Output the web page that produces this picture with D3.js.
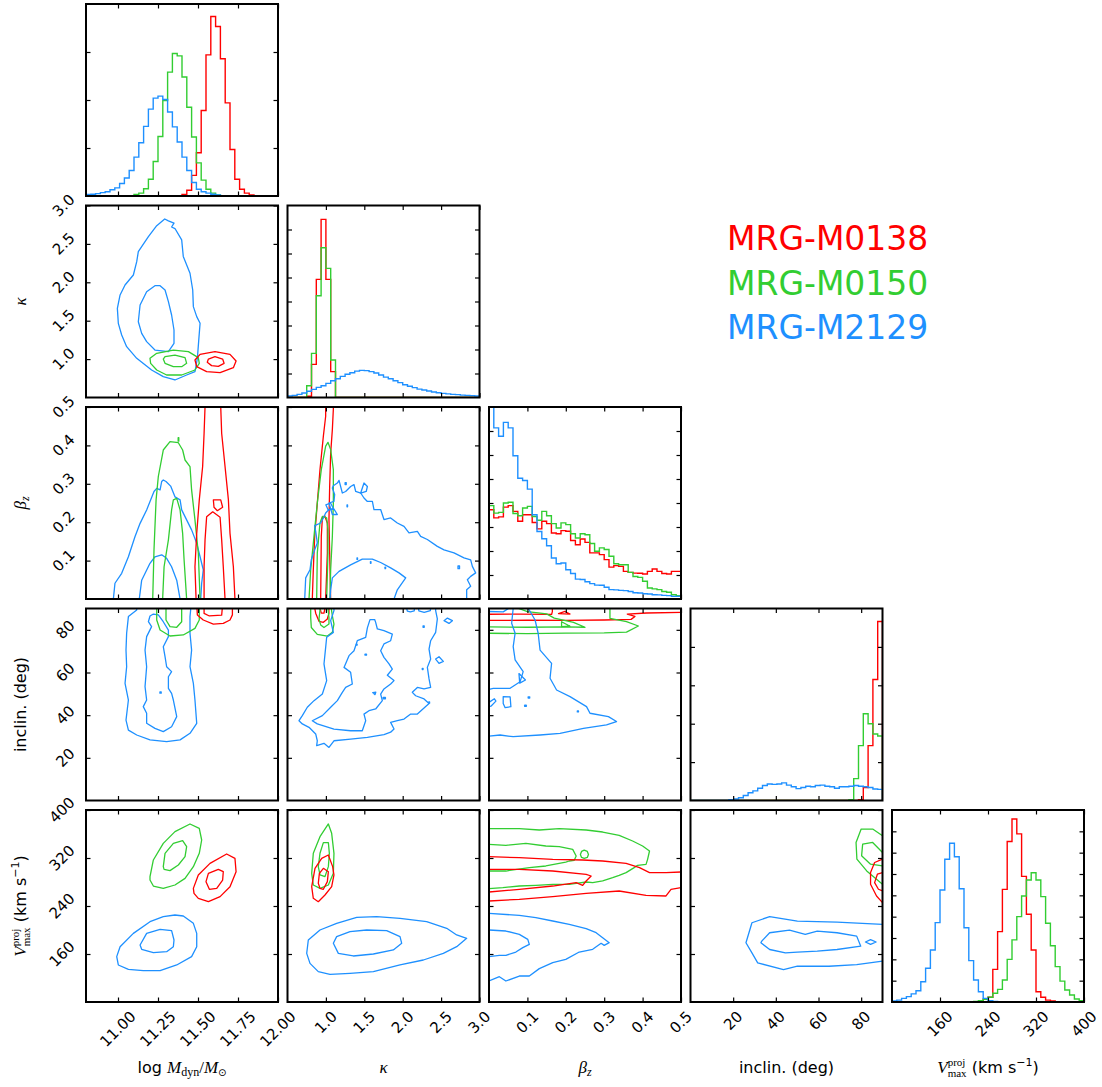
<!DOCTYPE html>
<html>
<head>
<meta charset="utf-8">
<script src="https://cdn.jsdelivr.net/npm/d3@7"></script>
<style>
  body { margin: 0; background: #fff; }
  svg { display: block; }
  text { white-space: pre; }
</style>
</head>
<body>
<svg id="chart" width="1102" height="1087"></svg>
<script>
// ---------- data ----------
const seriesNames = ["MRG-M0138", "MRG-M0150", "MRG-M2129"];
const seriesColors = ["#ff0000", "#32cd32", "#1e90ff"];

const paramDomains = [[10.8, 12.0], [0.5, 3.0], [0, 0.5], [0, 90], [80, 400]];
const paramTicks = [
  [11.0, 11.25, 11.5, 11.75, 12.0],
  [1.0, 1.5, 2.0, 2.5, 3.0],
  [0.1, 0.2, 0.3, 0.4, 0.5],
  [20, 40, 60, 80],
  [160, 240, 320, 400]
];
const paramTickLabels = [
  ["11.00", "11.25", "11.50", "11.75", "12.00"],
  ["1.0", "1.5", "2.0", "2.5", "3.0"],
  ["0.1", "0.2", "0.3", "0.4", "0.5"],
  ["20", "40", "60", "80"],
  ["160", "240", "320", "400"]
];
// histogram count axes (upper limit and tick marks)
const histTop = [4, 8, 8, 5, 9];
const histTicks = [[1, 2, 3], [1, 2, 3, 4, 5, 6, 7], [1, 2, 3, 4, 5, 6, 7], [1, 2, 3, 4], [1, 2, 3, 4, 5, 6, 7, 8]];

// 40-bin histograms across each parameter range: [M0138, M0150, M2129]
const histLogM = [
  [0,0,0,0,0,0,0,0,0,0, 0,0,0,0,0,0,0,0,0,0, 0.03,0.12,0.43,0.9,1.78,2.94,3.74,3.53,2.86,1.94, 0.97,0.35,0.14,0.06,0.02,0,0,0,0,0],
  [0,0,0,0,0,0,0,0,0,0, 0.03,0.06,0.15,0.35,0.72,1.24,1.99,2.58,2.97,2.92, 2.48,1.85,1.23,0.69,0.33,0.14,0.06,0.02,0,0, 0,0,0,0,0,0,0,0,0,0],
  [0.03,0.035,0.05,0.07,0.09,0.13,0.17,0.26,0.375,0.53, 0.81,1.11,1.45,1.81,2.04,2.08,2.01,1.75,1.44,1.125, 0.81,0.53,0.28,0.14,0.09,0.06,0.035,0.02,0.007,0, 0,0,0,0,0,0,0,0,0,0]
];
const histKappa = [
  [0,0,0,0,0.05,1.38,4.92,7.42,4.92,1.08, 0,0,0,0,0,0,0,0,0,0, 0,0,0,0,0,0,0,0,0,0, 0,0,0,0,0,0,0,0,0,0],
  [0,0,0,0,0.49,1.84,4.24,6.24,5.38,1.56, 0,0,0,0,0,0,0,0,0,0, 0,0,0,0,0,0,0,0,0,0, 0,0,0,0,0,0,0,0,0,0],
  [0.06,0.09,0.13,0.19,0.26,0.34,0.42,0.49,0.59,0.70, 0.78,0.88,0.97,1.03,1.10,1.13,1.12,1.08,1.02,0.94, 0.85,0.78,0.70,0.62,0.53,0.47,0.41,0.35,0.31,0.27, 0.23,0.20,0.17,0.15,0.13,0.12,0.10,0.09,0.08,0.06]
];
const histBeta = [
  [3.72,3.38,3.42,3.83,3.89,3.65,3.24,3.51,3.51,3.19, 2.92,3.24,3.14,2.75,2.72,2.85,2.82,2.44,2.26,2.5, 2.36,1.92,1.92,1.85,1.64,1.33,1.39,1.36,1.15,1.11, 1.08,1.07,1.04,1.15,1.25,1.15,1.06,1.04,1.15,1.15],
  [3.89,3.58,3.61,4.0,4.03,3.56,3.47,3.79,3.86,3.44, 3.28,3.65,3.47,3.14,2.96,3.17,3.1,2.72,2.54,2.72, 2.68,2.31,1.99,2.13,2.06,1.78,1.47,1.43,1.43,1.11, 0.94,0.90,0.74,0.46,0.42,0.39,0.31,0.28,0.18,0.14],
  [8.3,7.13,6.78,7.36,7.13,5.97,5.03,4.94,4.58,3.51, 2.81,2.51,2.22,1.71,1.47,1.50,1.22,1.06,0.83,0.81, 0.72,0.64,0.58,0.57,0.49,0.39,0.38,0.36,0.35,0.31, 0.26,0.25,0.22,0.21,0.18,0.17,0.15,0.14,0.11,0.11]
];
const histIncl = [
  [0,0,0,0,0,0,0,0,0,0, 0,0,0,0,0,0,0,0,0,0, 0,0,0,0,0,0,0,0,0,0, 0,0,0,0,0,0.02,0.34,1.43,3.15,4.66],
  [0,0,0,0,0,0,0,0,0,0, 0,0,0,0,0,0,0,0,0,0, 0,0,0,0,0,0,0,0,0,0, 0,0,0,0.02,0.57,1.43,2.26,2.0,1.73,1.68],
  [0,0,0,0,0,0,0,0,0.02,0.04, 0.07,0.13,0.2,0.25,0.32,0.39,0.43,0.42,0.43,0.46, 0.40,0.36,0.31,0.34,0.37,0.36,0.39,0.4,0.37,0.36, 0.32,0.36,0.36,0.37,0.39,0.37,0.36,0.34,0.3,0.29]
];
const histVmax = [
  [0,0,0,0,0,0,0,0,0,0, 0,0,0,0,0,0,0,0,0,0.13, 0.22,1.53,3.3,5.28,7.52,8.58,7.88,5.89,4.11,2.44, 0.48,0.22,0.09,0.05,0,0,0,0,0,0],
  [0,0,0,0,0,0,0,0,0,0, 0,0,0,0,0,0,0,0.03,0.06,0.13, 0.22,0.41,0.59,1.03,2.0,2.91,4.0,4.97,5.72,6.06, 5.72,4.94,3.69,2.64,1.66,0.98,0.56,0.33,0.14,0.06],
  [0.05,0.09,0.17,0.25,0.38,0.53,0.95,1.58,2.44,3.72, 5.25,6.69,7.44,6.81,5.31,3.48,1.94,1.03,0.48,0.17, 0.06,0.02,0,0,0,0,0,0,0,0, 0,0,0,0,0,0,0,0,0,0]
];
const histograms = [histLogM, histKappa, histBeta, histIncl, histVmax];

// 68% / 95% credible contours, as [x, y] in parameter units; s = series index
const kappaVsLogM = [
  { s: 2, closed: true, pts: [[11.292,2.824],[11.242,2.737],[11.190,2.594],[11.127,2.399],[11.117,2.269],[11.096,2.095],[11.044,1.965],[11.013,1.835],[10.996,1.661],[11.002,1.466],[11.023,1.314],[11.054,1.162],[11.117,1.010],[11.210,0.858],[11.283,0.771],[11.356,0.728],[11.429,0.793],[11.481,0.836],[11.496,1.010],[11.504,1.227],[11.513,1.467],[11.492,1.553],[11.471,1.683],[11.467,1.900],[11.450,2.118],[11.408,2.337],[11.398,2.552],[11.356,2.700],[11.335,2.720],[11.350,2.770],[11.315,2.800]] },
  { s: 2, closed: true, pts: [[11.231,1.956],[11.179,1.878],[11.138,1.704],[11.127,1.487],[11.148,1.335],[11.179,1.227],[11.231,1.118],[11.315,1.097],[11.350,1.205],[11.350,1.379],[11.335,1.574],[11.315,1.748],[11.294,1.900],[11.263,1.956]] },
  { s: 1, closed: true, pts: [[11.2,1.010],[11.242,1.075],[11.346,1.118],[11.440,1.097],[11.502,1.019],[11.508,0.945],[11.481,0.858],[11.398,0.793],[11.304,0.793],[11.242,0.858],[11.204,0.945]] },
  { s: 1, closed: true, pts: [[11.294,1.032],[11.356,1.053],[11.419,1.019],[11.429,0.945],[11.398,0.901],[11.346,0.901],[11.294,0.945],[11.283,1.001]] },
  { s: 0, closed: true, pts: [[11.481,0.988],[11.513,1.062],[11.606,1.097],[11.700,1.062],[11.738,0.975],[11.721,0.888],[11.638,0.823],[11.554,0.836],[11.492,0.901]] },
  { s: 0, closed: true, pts: [[11.565,1.001],[11.606,1.032],[11.654,1.001],[11.663,0.945],[11.627,0.906],[11.585,0.915],[11.558,0.958]] }
];
const betaVsLogM = [
  { s: 2, pts: [[10.971,-0.01],[10.971,0],[10.981,0.041],[11.023,0.067],[11.065,0.110],[11.106,0.162],[11.138,0.197],[11.179,0.232],[11.225,0.280],[11.242,0.288],[11.263,0.284],[11.273,0.306],[11.283,0.310],[11.300,0.306],[11.329,0.294],[11.356,0.266],[11.388,0.258],[11.398,0.232],[11.429,0.206],[11.460,0.180],[11.492,0.145],[11.513,0.110],[11.533,0.076],[11.523,0.041],[11.517,0],[11.517,-0.01]] },
  { s: 2, pts: [[11.133,-0.01],[11.133,0],[11.148,0.049],[11.2,0.093],[11.231,0.110],[11.273,0.115],[11.304,0.106],[11.335,0.084],[11.367,0.049],[11.388,0],[11.388,-0.01]] },
  { s: 1, pts: [[11.217,-0.01],[11.217,0],[11.225,0.128],[11.238,0.258],[11.252,0.319],[11.283,0.388],[11.325,0.410],[11.377,0.407],[11.404,0.388],[11.419,0.362],[11.450,0.345],[11.460,0.284],[11.481,0.206],[11.502,0.119],[11.513,0],[11.513,-0.01]] },
  { s: 1, closed: true, pts: [[11.376,0.411],[11.380,0.411],[11.380,0.420],[11.376,0.420]] },
  { s: 1, pts: [[11.279,-0.01],[11.279,0],[11.288,0.084],[11.315,0.154],[11.335,0.232],[11.346,0.258],[11.367,0.262],[11.388,0.232],[11.404,0.171],[11.413,0.102],[11.429,0],[11.429,-0.01]] },
  { s: 0, pts: [[11.488,-0.01],[11.488,0],[11.481,0.084],[11.492,0.171],[11.508,0.258],[11.529,0.345],[11.538,0.431],[11.544,0.501],[11.545,0.53],[11.642,0.53],[11.642,0.501],[11.648,0.431],[11.669,0.345],[11.690,0.258],[11.700,0.171],[11.721,0.084],[11.731,0],[11.731,-0.01]] },
  { s: 0, pts: [[11.538,-0.01],[11.538,0],[11.538,0.084],[11.544,0.154],[11.554,0.214],[11.592,0.227],[11.638,0.213],[11.648,0.154],[11.658,0.084],[11.669,0],[11.669,-0.01]] },
  { s: 0, closed: true, pts: [[11.596,0.258],[11.642,0.258],[11.654,0.239],[11.621,0.230],[11.600,0.239]] }
];
const inclVsLogM = [
  { s: 2, pts: [[11.117,92],[11.117,89.3],[11.065,86.2],[11.054,78.4],[11.05,70.5],[11.054,62.7],[11.044,54.9],[11.065,47.1],[11.05,37.7],[11.065,33.0],[11.117,30.7],[11.2,28.4],[11.304,27.6],[11.388,28.4],[11.45,31.5],[11.492,36.2],[11.481,47.1],[11.471,54.9],[11.45,62.7],[11.46,70.5],[11.45,78.4],[11.45,86.2],[11.454,89.3],[11.454,92]] },
  { s: 2, closed: true, pts: [[11.2,86.5],[11.19,83.8],[11.21,81.5],[11.179,76.8],[11.169,70.5],[11.179,62.7],[11.169,53.4],[11.179,47.1],[11.158,44.0],[11.179,40.9],[11.179,36.2],[11.231,33.8],[11.283,32.3],[11.335,34.6],[11.367,39.3],[11.346,47.1],[11.335,50.2],[11.315,52.6],[11.315,58.0],[11.335,60.4],[11.304,62.7],[11.294,67.4],[11.283,72.1],[11.315,76.8],[11.315,79.9],[11.283,83.8],[11.252,87.0],[11.221,87.4]] },
  { s: 2, closed: true, pts: [[11.262,50.9],[11.270,50.9],[11.270,50.3],[11.262,50.3]] },
  { s: 1, pts: [[11.242,92],[11.242,84.6],[11.263,79.9],[11.325,77.1],[11.408,77.6],[11.481,80.7],[11.508,84.6],[11.508,92]] },
  { s: 1, pts: [[11.3,92],[11.3,84.6],[11.325,81.5],[11.367,81.2],[11.398,83.8],[11.398,92]] },
  { s: 0, pts: [[11.492,92],[11.496,87.0],[11.533,84.6],[11.596,82.7],[11.658,83.0],[11.7,84.6],[11.715,87.0],[11.715,92]] },
  { s: 0, pts: [[11.538,92],[11.538,87.7],[11.571,86.5],[11.648,86.9],[11.654,92]] }
];
const vmaxVsLogM = [
  { s: 1, closed: true, pts: [[11.2,289],[11.221,316.7],[11.283,344.4],[11.356,363.9],[11.45,376.7],[11.508,369.4],[11.523,350],[11.508,327.8],[11.471,305.6],[11.419,286.1],[11.356,275],[11.283,269.4],[11.221,273.3],[11.2,283.3]] },
  { s: 1, closed: true, pts: [[11.283,305.6],[11.294,327.8],[11.346,344.4],[11.404,348.9],[11.429,338.9],[11.419,322.2],[11.377,308.3],[11.325,298.9],[11.288,301.1]] },
  { s: 0, closed: true, pts: [[11.471,269.4],[11.502,291.7],[11.575,311.1],[11.679,326.7],[11.731,319.4],[11.738,297.2],[11.7,272.2],[11.638,255.6],[11.565,247.2],[11.502,252.8],[11.475,261.1]] },
  { s: 0, closed: true, pts: [[11.55,280.6],[11.565,294.4],[11.627,301.1],[11.658,297.2],[11.654,283.3],[11.617,269.4],[11.571,267.8]] },
  { s: 2, closed: true, pts: [[10.992,155.6],[11.013,172.2],[11.096,194.4],[11.2,213.9],[11.283,222.2],[11.356,225],[11.408,223.3],[11.471,211.1],[11.492,194.4],[11.492,172.2],[11.46,155.6],[11.367,141.7],[11.263,132.2],[11.158,132.2],[11.065,134.4],[11.002,141.7]] },
  { s: 2, closed: true, pts: [[11.138,175],[11.179,194.4],[11.263,201.1],[11.335,198.9],[11.35,183.3],[11.346,172.2],[11.304,163.9],[11.221,162.2],[11.148,167.8]] }
];
const betaVsKappa = [
  { s: 0, pts: [[0.823,-0.01],[0.823,0],[0.836,0.076],[0.854,0.163],[0.888,0.25],[0.923,0.337],[0.967,0.424],[0.997,0.476],[0.997,0.52],[1.097,0.52],[1.097,0.495],[1.084,0.441],[1.062,0.380],[1.049,0.293],[1.040,0.207],[1.049,0.120],[1.062,0],[1.062,-0.01]] },
  { s: 0, pts: [[0.932,-0.01],[0.932,0],[0.940,0.163],[0.954,0.211],[0.984,0.217],[1.019,0.198],[1.019,0.12],[0.997,0],[0.997,-0.01]] },
  { s: 1, pts: [[0.780,-0.01],[0.780,0],[0.802,0.076],[0.845,0.163],[0.888,0.25],[0.940,0.337],[0.997,0.398],[1.027,0.408],[1.062,0.389],[1.097,0.337],[1.097,0.25],[1.084,0.163],[1.062,0.076],[1.053,0],[1.053,-0.01]] },
  { s: 1, pts: [[0.880,-0.01],[0.880,0],[0.888,0.12],[0.923,0.198],[0.954,0.215],[1.010,0.211],[1.027,0.181],[1.027,0.12],[1.010,0],[1.010,-0.01]] },
  { s: 2, pts: [[0.724,-0.01],[0.724,0],[0.737,0.055],[0.793,0.076],[0.810,0.102],[0.854,0.128],[0.888,0.146],[0.867,0.176],[0.854,0.191],[0.932,0.198],[0.967,0.211],[0.997,0.224],[1.040,0.233],[1.105,0.234],[1.149,0.22],[1.084,0.22],[1.040,0.25],[1.105,0.254],[1.114,0.272],[1.084,0.289],[1.097,0.295],[1.149,0.302],[1.171,0.309],[1.214,0.276],[1.257,0.280],[1.322,0.293],[1.366,0.298],[1.388,0.280],[1.453,0.276],[1.496,0.263],[1.540,0.254],[1.605,0.254],[1.626,0.233],[1.713,0.233],[1.756,0.207],[1.843,0.211],[1.930,0.198],[2.017,0.189],[2.082,0.172],[2.191,0.176],[2.234,0.163],[2.321,0.155],[2.451,0.137],[2.538,0.128],[2.668,0.120],[2.798,0.107],[2.885,0.102],[2.907,0.085],[2.950,0.068],[2.885,0.059],[2.842,0.050],[2.885,0.033],[2.833,0.024],[2.833,0],[2.833,-0.01]] },
  { s: 2, pts: [[1.053,-0.01],[1.053,0],[1.062,0.024],[1.084,0.055],[1.171,0.072],[1.322,0.089],[1.474,0.104],[1.605,0.104],[1.713,0.095],[1.843,0.081],[1.952,0.068],[2.039,0.055],[1.930,0.024],[1.887,0],[1.887,-0.01]] },
  { s: 2, closed: true, pts: [[1.453,0.276],[1.496,0.302],[1.540,0.293],[1.525,0.280]] },
  { s: 2, closed: true, pts: [[1.0,0.245],[1.06,0.25],[1.10,0.235],[1.03,0.232]] },
  { s: 2, closed: true, pts: [[1.25,0.303],[1.265,0.303],[1.265,0.298],[1.25,0.298]] },
  { s: 2, closed: true, pts: [[1.275,0.245],[1.282,0.245],[1.282,0.240],[1.275,0.240]] },
  { s: 2, closed: true, pts: [[1.405,0.107],[1.412,0.107],[1.412,0.103],[1.405,0.103]] },
  { s: 2, closed: true, pts: [[1.58,0.097],[1.587,0.097],[1.587,0.093],[1.58,0.093]] },
  { s: 2, closed: true, pts: [[1.77,0.083],[1.777,0.083],[1.777,0.079],[1.77,0.079]] },
  { s: 2, closed: true, pts: [[2.72,0.086],[2.74,0.086],[2.74,0.079],[2.72,0.079]] }
];
const inclVsKappa = [
  { s: 0, pts: [[0.845,92],[0.867,87.8],[0.910,84.0],[0.967,83.5],[1.019,85.1],[1.040,87.8],[1.040,92]] },
  { s: 0, pts: [[0.910,92],[0.940,87.8],[0.975,87.8],[0.997,92]] },
  { s: 1, pts: [[0.802,92],[0.802,85.9],[0.810,81.1],[0.888,77.9],[1.019,77.1],[1.084,78.8],[1.105,82.7],[1.084,86.6],[1.062,92]] },
  { s: 1, pts: [[0.932,92],[0.910,85.1],[0.932,82.3],[0.975,81.1],[1.040,82.7],[1.040,85.9],[1.019,92]] },
  { s: 2, pts: [[1.105,92],[1.105,89.0],[1.062,84.3],[1.097,78.8],[1.010,76.5],[0.997,71.8],[0.975,64.0],[1.010,56.2],[0.954,49.9],[0.845,46.8],[0.758,43.7],[0.693,39.8],[0.650,37.4],[0.693,35.9],[0.780,34.3],[0.867,31.2],[0.888,28.0],[0.880,25.7],[0.975,26.8],[1.040,24.9],[1.105,28.0],[1.322,28.8],[1.540,29.6],[1.756,30.9],[1.843,32.0],[1.887,33.5],[1.843,36.6],[1.930,37.4],[2.017,38.2],[2.104,40.5],[2.191,40.5],[2.343,45.5],[2.278,47.6],[2.169,49.1],[2.125,50.7],[2.191,53.0],[2.278,52.3],[2.364,53.0],[2.343,57.0],[2.321,62.4],[2.364,66.3],[2.343,71.0],[2.364,74.9],[2.429,78.8],[2.451,85.1],[2.429,89.0],[2.429,92]] },
  { s: 2, closed: true, pts: [[1.574,84.8],[1.540,80.9],[1.518,76.5],[1.409,74.9],[1.366,70.2],[1.301,67.9],[1.236,62.4],[1.322,60.1],[1.344,54.6],[1.257,53.0],[1.214,50.7],[1.149,46.8],[1.062,43.7],[0.954,39.8],[0.823,37.4],[0.888,35.9],[1.105,33.5],[1.322,32.7],[1.474,32.7],[1.518,37.4],[1.496,40.5],[1.561,42.1],[1.648,42.9],[1.735,46.8],[1.713,49.9],[1.756,52.3],[1.843,54.6],[1.887,56.2],[1.800,58.7],[1.865,61.6],[1.822,64.0],[1.756,67.1],[1.713,70.2],[1.756,73.4],[1.843,74.9],[1.865,78.0],[1.756,79.6],[1.670,80.4],[1.648,83.5],[1.635,84.8]] },
  { s: 2, pts: [[2.04,92],[2.06,88.8],[2.10,88.4],[2.15,88.9],[2.16,92]] },
  { s: 2, pts: [[2.20,92],[2.21,88.9],[2.28,88.2],[2.36,89.0],[2.37,92]] },
  { s: 2, closed: true, pts: [[2.538,84.3],[2.582,85.5],[2.647,84.3],[2.603,83.0]] },
  { s: 2, closed: true, pts: [[2.429,66.3],[2.473,67.4],[2.529,65.2],[2.473,64.3]] },
  { s: 2, closed: true, pts: [[1.61,50.6],[1.65,50.8],[1.64,49.6]] },
  { s: 2, closed: true, pts: [[1.398,73.3],[1.406,73.3],[1.406,72.8],[1.398,72.8]] },
  { s: 2, closed: true, pts: [[1.510,68.6],[1.528,68.6],[1.528,68.1],[1.510,68.1]] },
  { s: 2, closed: true, pts: [[1.745,48.3],[1.775,48.3],[1.775,47.7],[1.745,47.7]] },
  { s: 2, closed: true, pts: [[2.265,81.8],[2.28,81.8],[2.28,81.2],[2.265,81.2]] },
  { s: 2, closed: true, pts: [[2.255,61.9],[2.265,61.9],[2.265,61.4],[2.255,61.4]] },
  { s: 2, closed: true, pts: [[2.34,46.2],[2.35,46.2],[2.35,45.6],[2.34,45.6]] }
];
const inclVsBeta = [
  { s: 0, pts: [[-0.01,84.4],[0,84.4],[0.1,84.5],[0.2,84.4],[0.3,84.6],[0.37,84.9],[0.38,86.3],[0.36,87.4],[0.41,87.9],[0.5,88.2],[0.51,88.2]] },
  { s: 0, pts: [[-0.01,87.3],[0,87.3],[0.08,87.4],[0.163,87.2],[0.165,88.5],[0.165,92]] },
  { s: 0, closed: true, pts: [[0.181,87.6],[0.198,88.6],[0.211,87.4]] },
  { s: 1, pts: [[-0.01,78.4],[0,78.4],[0.1,78.2],[0.2,78.5],[0.3,78.6],[0.358,78.9],[0.389,81.8],[0.358,83.8],[0.315,85.4],[0.315,92]] },
  { s: 1, pts: [[-0.01,81.4],[0,81.4],[0.1,81.2],[0.2,81.4],[0.25,81.2],[0.22,83.5],[0.17,85.5],[0.15,87.5],[0.1,88.5],[0.07,90.5],[0.068,92]] },
  { s: 1, closed: true, pts: [[0.189,83.8],[0.211,81.7],[0.189,81.5]] },
  { s: 2, pts: [[-0.01,30.2],[0,30.2],[0.029,30.7],[0.063,29.9],[0.133,30.7],[0.185,31.5],[0.246,33.8],[0.306,35.4],[0.332,37.0],[0.311,39.3],[0.263,40.9],[0.254,44.0],[0.211,48.7],[0.176,51.8],[0.159,57.3],[0.163,64.3],[0.133,70.5],[0.128,78.4],[0.120,84.6],[0.102,90.1],[0.1,92]] },
  { s: 2, pts: [[0.063,92],[0.063,90.1],[0.059,83.1],[0.068,78.4],[0.063,72.1],[0.068,65.9],[0.089,60.4],[0.081,55.7],[0.055,52.6],[0.011,52.6],[0,52.1],[-0.01,52.1]] },
  { s: 2, pts: [[-0.01,88.6],[0,88.6],[0.037,88.4],[0.055,90.5],[0.056,92]] },
  { s: 2, closed: true, pts: [[0.037,48.7],[0.055,48.6],[0.057,44.0],[0.042,43.5],[0.037,45.5]] },
  { s: 2, pts: [[-0.01,46.0],[0,46.0],[0.014,47.7],[0.018,46.6],[0.005,44.2],[0,44.0],[-0.01,44.0]] },
  { s: 2, closed: true, pts: [[0.078,59.5],[0.095,56.5],[0.08,55]] },
  { s: 2, closed: true, pts: [[0.102,48.6],[0.106,48.6],[0.106,48.0],[0.102,48.0]] },
  { s: 2, closed: true, pts: [[0.093,44.7],[0.097,44.7],[0.097,44.1],[0.093,44.1]] },
  { s: 2, closed: true, pts: [[0.230,42.0],[0.233,42.0],[0.233,41.5],[0.230,41.5]] }
];
const vmaxVsKappa = [
  { s: 1, closed: true, pts: [[0.815,294.4],[0.836,327.8],[0.923,355.6],[1.032,376.7],[1.075,361.1],[1.105,327.8],[1.097,294.4],[1.032,275],[0.923,269.4],[0.836,275]] },
  { s: 1, closed: true, pts: [[0.901,305.6],[0.923,327.8],[0.967,345.6],[1.032,345.6],[1.045,327.8],[1.032,305.6],[0.988,288.9],[0.923,291.7]] },
  { s: 0, closed: true, pts: [[0.815,272.2],[0.858,302.8],[0.945,319.4],[1.032,325],[1.088,305.6],[1.105,291.7],[1.075,272.2],[0.988,258.3],[0.901,247.2],[0.836,252.8]] },
  { s: 0, closed: true, pts: [[0.901,277.8],[0.915,294.4],[0.967,302.8],[1.032,297.2],[1.019,280.6],[0.967,267.8],[0.923,269.4]] },
  { s: 2, closed: true, pts: [[0.750,161.1],[0.771,183.3],[0.923,200],[1.140,211.1],[1.401,221.1],[1.661,222.2],[1.965,219.4],[2.312,213.9],[2.573,202.8],[2.703,191.7],[2.833,186.1],[2.703,172.2],[2.529,161.1],[2.269,150],[1.965,141.7],[1.618,130.6],[1.314,127.8],[1.053,126.1],[0.901,130.6],[0.793,144.4]] },
  { s: 2, closed: true, pts: [[1.097,177.8],[1.140,188.9],[1.314,197.2],[1.531,200],[1.791,198.9],[1.965,188.9],[1.987,177.8],[1.878,166.7],[1.618,160],[1.357,156.7],[1.162,161.1]] }
];
const vmaxVsBeta = [
  { s: 1, pts: [[-0.01,368.9],[0,368.9],[0.079,368.9],[0.131,366.7],[0.183,368.9],[0.253,366.7],[0.296,363.3],[0.339,357.8],[0.374,348.3],[0.4,340],[0.418,331.7],[0.413,317.8],[0.409,309.4],[0.387,307.8],[0.378,303.9],[0.357,295.6],[0.339,291.1],[0.322,287.2],[0.296,281.7],[0.270,278.9],[0.253,280],[0.227,277.8],[0.209,276.1],[0.166,276.1],[0.122,274.4],[0.079,273.3],[0.036,270.6],[0,268.9],[-0.01,268.9]] },
  { s: 1, pts: [[-0.01,342.8],[0,342.8],[0.044,341.1],[0.096,344.4],[0.148,340],[0.183,338.9],[0.218,334.4],[0.227,323.3],[0.222,316.1],[0.209,315],[0.2,313.3],[0.148,306.7],[0.105,303.9],[0.044,298.3],[0,298.3],[-0.01,298.3]] },
  { s: 1, closed: true, pts: [[0.238,326],[0.241,331],[0.248,333],[0.256,331],[0.259,326],[0.256,321],[0.248,319.5],[0.241,321]] },
  { s: 0, closed: true, pts: [[-0.01,322.2],[0,322.2],[0.079,320.6],[0.166,317.8],[0.244,316.7],[0.296,315],[0.357,311.1],[0.392,303.9],[0.418,295.6],[0.461,295.6],[0.5,296.7],[0.51,296.7],[0.51,270.6],[0.5,270.6],[0.474,267.8],[0.461,256.7],[0.409,257.8],[0.339,265],[0.253,261.1],[0.166,255.6],[0.079,251.1],[0,248.3],[-0.01,248.3]] },
  { s: 0, pts: [[-0.01,301.1],[0,301.1],[0.079,301.1],[0.166,298.3],[0.253,292.8],[0.266,290],[0.253,281.7],[0.244,274.4],[0.227,278.9],[0.166,273.3],[0.079,267.8],[0,263.3],[-0.01,263.3]] },
  { s: 2, pts: [[-0.01,227.8],[0,227.8],[0.079,224.4],[0.122,220.6],[0.166,215],[0.209,209.4],[0.253,202.2],[0.279,195.6],[0.296,187.2],[0.313,178.9],[0.3,174.4],[0.292,177.8],[0.270,167.8],[0.235,163.3],[0.2,151.1],[0.166,145.6],[0.131,135.6],[0.105,123.3],[0.079,123.3],[0.044,115],[0.027,122.2],[0,115],[-0.01,115]] },
  { s: 2, pts: [[-0.01,200],[0,200],[0.044,198.3],[0.079,192.8],[0.101,184.4],[0.105,176.1],[0.088,170.6],[0.070,163.3],[0.044,157.8],[0.027,157.8],[0,155.6],[-0.01,155.6]] }
];
const vmaxVsIncl = [
  { s: 2, pts: [[92,209.3],[90,209.3],[68.7,213.2],[50.1,214.9],[37.1,222.2],[28.8,212.1],[26.0,178.7],[28.8,162.0],[31.5,145.2],[43.6,134.0],[50.1,139.6],[64.9,139.6],[77.9,142.4],[90,148.0],[92,148]] },
  { s: 2, closed: true, pts: [[33.4,181.5],[37.1,195.4],[46.4,199.9],[53.8,192.6],[59.4,198.2],[68.7,195.4],[77.9,189.8],[79.8,173.1],[68.7,167.5],[59.4,164.7],[50.1,163.1],[44.5,161.9],[37.1,167.5],[33.0,178.7]] },
  { s: 2, closed: true, pts: [[82.0,180],[84.4,184],[87.0,180],[84.4,176]] },
  { s: 1, pts: [[92,357.1],[90,357.1],[85.4,368.2],[80.0,368.2],[77.6,345.9],[78.0,318],[82.6,298.5],[87.2,284.6],[90,276.2],[92,276]] },
  { s: 1, pts: [[92,329.2],[90,329.2],[85.4,345.9],[80.7,343.1],[80.2,323.6],[84.4,309.7],[90,306.9],[92,306.9]] },
  { s: 0, pts: [[92,318],[90,318],[86.3,312.5],[84.4,295.7],[84.4,276.2],[87.2,256.7],[90,245.6],[92,245]] },
  { s: 0, pts: [[92,295.7],[90,295.7],[87.6,293.0],[86.3,279.0],[88.1,267.9],[90,265.1],[92,265]] }
];
// row,col lookup of the off-diagonal panels
const contourPanels = {
  "1,0": kappaVsLogM,
  "2,0": betaVsLogM, "2,1": betaVsKappa,
  "3,0": inclVsLogM, "3,1": inclVsKappa, "3,2": inclVsBeta,
  "4,0": vmaxVsLogM, "4,1": vmaxVsKappa, "4,2": vmaxVsBeta, "4,3": vmaxVsIncl
};

// ---------- layout ----------
const svg = d3.select("#chart");
const N = 5, panelSize = 192, panelStep = 201.5, left0 = 86, top0 = 4;
const SANS = "'DejaVu Sans', sans-serif";
const SERIF = "'Liberation Serif', 'DejaVu Serif', serif";
const tickFont = 15;

const xScales = paramDomains.map((d, c) =>
  d3.scaleLinear().domain(d).range([left0 + c * panelStep, left0 + c * panelStep + panelSize]));
const yScales = paramDomains.map((d, r) =>
  d3.scaleLinear().domain(d).range([top0 + r * panelStep + panelSize, top0 + r * panelStep]));
const histScales = histTop.map((m, r) =>
  d3.scaleLinear().domain([0, m]).range([top0 + r * panelStep + panelSize, top0 + r * panelStep]));

const defs = svg.append("defs");

function panelBox(r, c) {
  return { x: left0 + c * panelStep, y: top0 + r * panelStep, w: panelSize, h: panelSize };
}

function drawTicks(g, xs, ys, xt, yt, box) {
  const tk = sel => sel.call(s => s.select(".domain").remove())
    .selectAll("line").attr("stroke", "#000").attr("stroke-width", 1.2);
  g.append("g").attr("transform", `translate(0,${box.y + box.h})`)
    .call(d3.axisBottom(xs).tickValues(xt).tickSize(-4.5).tickFormat("")).call(tk);
  g.append("g").attr("transform", `translate(0,${box.y})`)
    .call(d3.axisTop(xs).tickValues(xt).tickSize(-4.5).tickFormat("")).call(tk);
  g.append("g").attr("transform", `translate(${box.x},0)`)
    .call(d3.axisLeft(ys).tickValues(yt).tickSize(-4.5).tickFormat("")).call(tk);
  g.append("g").attr("transform", `translate(${box.x + box.w},0)`)
    .call(d3.axisRight(ys).tickValues(yt).tickSize(-4.5).tickFormat("")).call(tk);
}

for (let r = 0; r < N; r++) {
  for (let c = 0; c <= r; c++) {
    const box = panelBox(r, c);
    const id = `clip-${r}-${c}`;
    defs.append("clipPath").attr("id", id).append("rect")
      .attr("x", box.x).attr("y", box.y).attr("width", box.w).attr("height", box.h);
    const g = svg.append("g");
    const xs = xScales[c];
    const body = g.append("g").attr("clip-path", `url(#${id})`);

    if (r === c) {
      // step histograms
      const ys = histScales[r];
      const [d0, d1] = paramDomains[c];
      const nb = histograms[r][0].length;
      const edges = d3.range(nb + 1).map(i => d0 + (d1 - d0) * i / nb);
      histograms[r].forEach((counts, s) => {
        const pts = [[edges[0], 0]];
        counts.forEach((v, i) => { pts.push([edges[i], v]); pts.push([edges[i + 1], v]); });
        pts.push([edges[nb], 0]);
        body.append("path")
          .attr("d", d3.line().x(d => xs(d[0])).y(d => ys(d[1]))(pts))
          .attr("fill", "none").attr("stroke", seriesColors[s])
          .attr("stroke-width", 1.4).attr("stroke-linejoin", "miter");
      });
      drawTicks(g, xs, ys, paramTicks[c], histTicks[r], box);
    } else {
      const ys = yScales[r];
      const line = d3.line().x(d => xs(d[0])).y(d => ys(d[1]));
      const lineClosed = d3.line().x(d => xs(d[0])).y(d => ys(d[1])).curve(d3.curveLinearClosed);
      contourPanels[`${r},${c}`].forEach(ct => {
        body.append("path")
          .attr("d", (ct.closed ? lineClosed : line)(ct.pts))
          .attr("fill", "none").attr("stroke", seriesColors[ct.s])
          .attr("stroke-width", 1.3).attr("stroke-linejoin", "round");
      });
      drawTicks(g, xs, ys, paramTicks[c], paramTicks[r], box);
    }
    g.append("rect").attr("x", box.x).attr("y", box.y).attr("width", box.w).attr("height", box.h)
      .attr("fill", "none").attr("stroke", "#000").attr("stroke-width", 2);
  }
}

// ---------- rotated tick labels ----------
function measure(text, fs) {
  const t = svg.append("text").style("font-family", SANS).style("font-size", fs + "px").text(text);
  const w = t.node().getComputedTextLength();
  t.remove();
  return w;
}
function rotatedLabel(text, cx, cy) {
  svg.append("text")
    .attr("transform", `translate(${cx},${cy}) rotate(-45)`)
    .attr("text-anchor", "middle").attr("dominant-baseline", "central")
    .style("font-family", SANS).style("font-size", tickFont + "px").attr("fill", "#000")
    .text(text);
}
const bottomEdge = top0 + (N - 1) * panelStep + panelSize;
for (let c = 0; c < N; c++) {
  paramTicks[c].forEach((v, i) => {
    const lab = paramTickLabels[c][i];
    const diag = (measure(lab, tickFont) + 0.73 * tickFont) / Math.SQRT2;
    rotatedLabel(lab, xScales[c](v), bottomEdge + 8 + diag / 2);
  });
}
for (let r = 1; r < N; r++) {
  paramTicks[r].forEach((v, i) => {
    const lab = paramTickLabels[r][i];
    const diag = (measure(lab, tickFont) + 0.73 * tickFont) / Math.SQRT2;
    rotatedLabel(lab, left0 - 10 - diag / 2, yScales[r](v));
  });
}

// ---------- axis titles (mixed text / math pieces) ----------
function richLabel(parts) {
  const g = svg.append("g");
  let x = 0, supStart = 0;
  parts.forEach(p => {
    const t = g.append("text")
      .attr("y", p.dy || 0)
      .style("font-family", p.ff).style("font-size", p.fs + "px")
      .style("font-style", p.it ? "italic" : "normal")
      .attr("fill", "#000").text(p.t);
    const w = t.node().getComputedTextLength();
    if (p.stack) { t.attr("x", supStart); x = Math.max(x, supStart + w); }
    else { t.attr("x", x); supStart = x; x += w; }
  });
  return { g, width: x };
}
const titleParts = [
  [{ t: "log ", ff: SANS, fs: 16 }, { t: "M", ff: SERIF, fs: 17, it: true }, { t: "dyn", ff: SERIF, fs: 12, dy: 3 },
   { t: "/", ff: SERIF, fs: 17 }, { t: "M", ff: SERIF, fs: 17, it: true }, { t: "⊙", ff: SANS, fs: 10, dy: 3 }],
  [{ t: "κ", ff: SERIF, fs: 17, it: true }],
  [{ t: "β", ff: SERIF, fs: 17, it: true }, { t: "z", ff: SERIF, fs: 12, it: true, dy: 3 }],
  [{ t: "inclin. (deg)", ff: SANS, fs: 16 }],
  [{ t: "V", ff: SERIF, fs: 17, it: true }, { t: "proj", ff: SERIF, fs: 11, dy: -7 }, { t: "max", ff: SERIF, fs: 11, dy: 4, stack: true },
   { t: " (km s", ff: SANS, fs: 16 }, { t: "−1", ff: SANS, fs: 11, dy: -7 }, { t: ")", ff: SANS, fs: 16 }]
];
for (let c = 0; c < N; c++) {
  const lab = richLabel(titleParts[c]);
  const cx = left0 + c * panelStep + panelSize / 2;
  lab.g.attr("transform", `translate(${cx - lab.width / 2},1073)`);
}
for (let r = 1; r < N; r++) {
  const lab = richLabel(titleParts[r]);
  const cy = top0 + r * panelStep + panelSize / 2;
  lab.g.attr("transform", `translate(26,${cy}) rotate(-90) translate(${-lab.width / 2},0)`);
}

// ---------- legend ----------
seriesNames.forEach((name, i) => {
  svg.append("text")
    .attr("x", 727).attr("y", 250 + i * 44.5)
    .style("font-family", SANS).style("font-size", "33px")
    .attr("fill", seriesColors[i]).text(name);
});
</script>
</body>
</html>
